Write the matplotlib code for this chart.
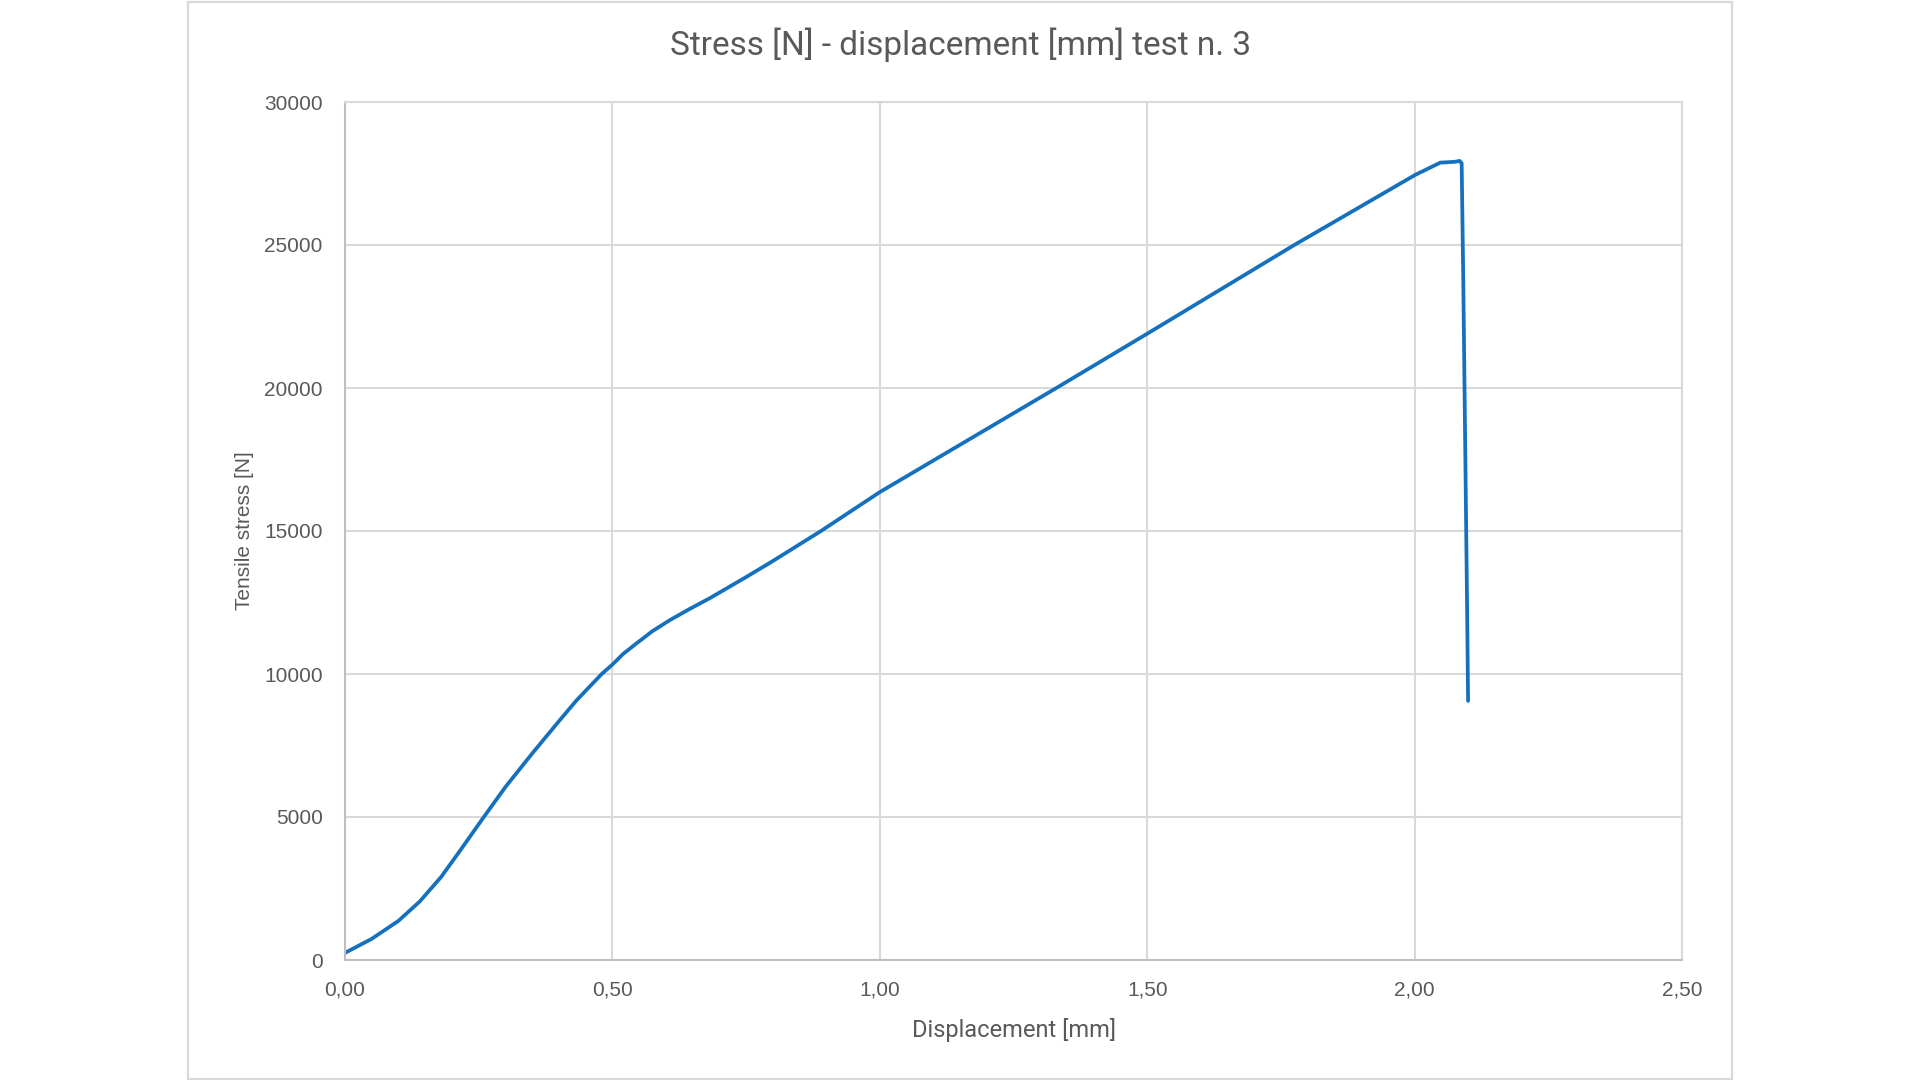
import matplotlib
matplotlib.use("Agg")
import matplotlib.pyplot as plt
from matplotlib.patches import Rectangle
from matplotlib.ticker import FuncFormatter, MultipleLocator

# Values (displacement in mm, stress in N)
displacement = [0.000, 0.050, 0.100, 0.140, 0.180, 0.215, 0.260, 0.300, 0.350, 0.400,
                0.433, 0.480, 0.500, 0.520, 0.545, 0.575, 0.608, 0.645, 0.682, 0.751,
                0.800, 0.890, 1.000, 1.331, 1.501, 1.775, 2.001, 2.048, 2.076, 2.084,
                2.088, 2.091, 2.098, 2.100]
stress = [250, 740, 1370, 2050, 2910, 3820, 5010, 6050, 7220, 8350,
          9080, 10000, 10330, 10700, 11070, 11500, 11890, 12280, 12650, 13400,
          13950, 15000, 16360, 20010, 21910, 25000, 27450, 27880, 27910, 27940,
          27860, 23780, 12590, 9060]

title = "Stress [N] - displacement [mm] test n. 3"
x_label = "Displacement [mm]"
y_label = "Tensile stress [N]"

text_color = "#595959"
grid_color = "#d9d9d9"
line_color = "#1570bd"

fig = plt.figure(figsize=(19.2, 10.8), dpi=100)
ax = fig.add_axes([345 / 1920, 1 - 960 / 1080, 1337 / 1920, 858 / 1080])

# outer chart frame
fig.patches.append(Rectangle((188 / 1920, 1 / 1080), 1544 / 1920, 1077 / 1080,
                             transform=fig.transFigure, fill=False,
                             edgecolor=grid_color, linewidth=1.6))

ax.plot(displacement, stress, color=line_color, linewidth=2.7,
        solid_joinstyle="round", solid_capstyle="round")

ax.set_xlim(0, 2.5)
ax.set_ylim(0, 30000)
ax.xaxis.set_major_locator(MultipleLocator(0.5))
ax.yaxis.set_major_locator(MultipleLocator(5000))
ax.xaxis.set_major_formatter(FuncFormatter(lambda v, p: f"{v:.2f}".replace(".", ",")))
ax.yaxis.set_major_formatter(FuncFormatter(lambda v, p: f"{v:.0f}"))

ax.grid(True, color=grid_color, linewidth=1.5)
ax.set_axisbelow(True)
for side, sp in ax.spines.items():
    sp.set_color("#bfbfbf" if side in ("left", "bottom") else grid_color)
    sp.set_linewidth(1.5)

ax.tick_params(length=0, labelsize=15, labelcolor=text_color)
ax.tick_params(axis="y", pad=16)
ax.tick_params(axis="x", pad=15)
for lbl in ax.get_xticklabels() + ax.get_yticklabels():
    lbl.set_family("Liberation Sans")

ax.set_xlabel(x_label, fontsize=17, color=text_color,
              family=["Liberation Sans Narrow", "Roboto", "DejaVu Sans"])
ax.xaxis.set_label_coords(0.5, -0.068)
ax.set_ylabel(y_label, fontsize=15, color=text_color, family="Liberation Sans")
ax.yaxis.set_label_coords(-0.068, 0.5)

fig.text(0.5, 1 - 45 / 1080, title, ha="center", va="center", fontsize=24,
         color=text_color, family=["Liberation Sans Narrow", "Roboto", "DejaVu Sans"])

fig.savefig("out.png", dpi=100, facecolor="white")
